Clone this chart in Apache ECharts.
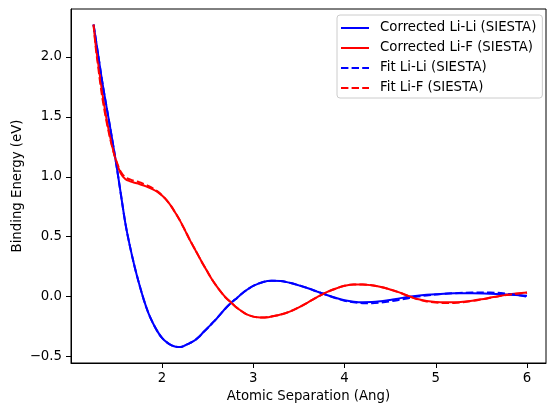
<!DOCTYPE html>
<html>
<head>
<meta charset="utf-8">
<script src="https://cdn.jsdelivr.net/npm/echarts@6/dist/echarts.min.js"></script>
<style>html,body{margin:0;padding:0;background:#fff}#c{width:547px;height:404px}</style>
</head>
<body>
<div id="c"></div>
<script>
// ---- data ----
var seriesNames = ['Corrected Li-Li (SIESTA)', 'Corrected Li-F (SIESTA)', 'Fit Li-Li (SIESTA)', 'Fit Li-F (SIESTA)'];

var xLiLi = [1.25,1.30,1.35,1.40,1.45,1.50,1.55,1.60,1.65,1.70,1.75,1.80,1.85,1.90,1.95,2.00,2.05,2.10,2.15,2.20,2.25,2.30,2.35,2.40,2.45,2.50,2.55,2.60,2.65,2.70,2.75,2.80,2.85,2.90,2.95,3.00,3.10,3.20,3.30,3.40,3.50,3.60,3.70,3.80,3.90,4.00,4.10,4.20,4.30,4.40,4.50,4.60,4.70,4.80,4.90,5.00,5.20,5.40,5.60,5.80,6.00];
var yLiLi = [2.27,2.02,1.77,1.55,1.33,1.10,0.85,0.605,0.415,0.25,0.105,-0.025,-0.135,-0.22,-0.29,-0.345,-0.38,-0.405,-0.418,-0.421,-0.408,-0.39,-0.37,-0.34,-0.30,-0.262,-0.222,-0.183,-0.138,-0.095,-0.057,-0.025,0.008,0.04,0.067,0.09,0.12,0.132,0.13,0.115,0.094,0.07,0.042,0.015,-0.01,-0.03,-0.042,-0.047,-0.046,-0.039,-0.028,-0.015,-0.002,0.008,0.015,0.02,0.027,0.028,0.024,0.016,0.008];
var yFitLiLi = [2.27,2.02,1.77,1.55,1.33,1.10,0.85,0.605,0.415,0.25,0.105,-0.025,-0.135,-0.22,-0.29,-0.345,-0.38,-0.405,-0.418,-0.421,-0.408,-0.39,-0.37,-0.34,-0.30,-0.262,-0.222,-0.183,-0.138,-0.095,-0.057,-0.025,0.008,0.04,0.067,0.09,0.12,0.132,0.13,0.115,0.094,0.07,0.042,0.015,-0.012,-0.034,-0.048,-0.055,-0.056,-0.05,-0.04,-0.027,-0.013,0.0,0.01,0.017,0.028,0.034,0.034,0.022,0.0];

var xLiF = [1.25,1.275,1.30,1.325,1.35,1.375,1.40,1.45,1.50,1.55,1.60,1.65,1.70,1.75,1.80,1.85,1.90,1.95,2.00,2.05,2.10,2.15,2.20,2.25,2.30,2.35,2.40,2.45,2.50,2.55,2.60,2.65,2.70,2.75,2.80,2.85,2.90,2.95,3.00,3.05,3.10,3.15,3.20,3.30,3.40,3.50,3.60,3.70,3.80,3.90,4.00,4.10,4.20,4.30,4.40,4.50,4.60,4.70,4.80,4.90,5.00,5.10,5.20,5.30,5.40,5.50,5.60,5.70,5.80,5.90,6.00];
var yLiF = [2.27,2.09,1.95,1.81,1.68,1.56,1.45,1.27,1.125,1.025,0.98,0.962,0.95,0.94,0.927,0.912,0.895,0.873,0.843,0.805,0.755,0.695,0.63,0.556,0.48,0.41,0.34,0.27,0.205,0.14,0.085,0.035,-0.01,-0.045,-0.08,-0.11,-0.135,-0.155,-0.167,-0.173,-0.175,-0.173,-0.166,-0.15,-0.125,-0.09,-0.048,-0.005,0.035,0.066,0.09,0.102,0.102,0.094,0.08,0.06,0.035,0.005,-0.02,-0.036,-0.045,-0.048,-0.047,-0.042,-0.034,-0.022,-0.008,0.006,0.018,0.027,0.035];
var yFitLiF = [2.27,2.07,1.92,1.77,1.64,1.53,1.43,1.26,1.13,1.04,0.995,0.978,0.965,0.955,0.94,0.923,0.903,0.878,0.846,0.805,0.755,0.695,0.63,0.556,0.48,0.41,0.34,0.27,0.205,0.14,0.085,0.035,-0.01,-0.045,-0.08,-0.11,-0.135,-0.155,-0.167,-0.173,-0.175,-0.173,-0.166,-0.15,-0.125,-0.09,-0.048,-0.005,0.035,0.066,0.09,0.102,0.102,0.094,0.08,0.06,0.035,0.005,-0.022,-0.04,-0.05,-0.054,-0.053,-0.047,-0.037,-0.024,-0.01,0.004,0.016,0.025,0.033];

var xTicks = [2, 3, 4, 5, 6];
var yTicks = [-0.5, 0.0, 0.5, 1.0, 1.5, 2.0];

function pairs(xs, ys) { return xs.map(function (x, i) { return [x, ys[i]]; }); }

var FONT = 'DejaVu Sans';
var chart = echarts.init(document.getElementById('c'), null, { renderer: 'canvas' });
var dashIcon = 'path://M0,0h7.4v2h-7.4z M10.6,0h7.4v2h-7.4z M21.2,0h6.8v2h-6.8z';
var solidIcon = 'path://M0,0h28v2h-28z';

function mkSeries(name, data, color, dashed) {
  return {
    name: name, type: 'line', data: data, showSymbol: false, symbol: 'none',
    smooth: 0.35, animation: false, clip: true,
    lineStyle: { color: color, width: 2, type: dashed ? [7.4, 3.2] : 'solid', cap: 'butt' },
    itemStyle: { color: color }
  };
}

chart.setOption({
  animation: false,
  backgroundColor: '#ffffff',
  textStyle: { fontFamily: FONT },
  grid: { left: 71, top: 9, width: 475, height: 354, show: true, borderColor: '#000', borderWidth: 1, backgroundColor: 'transparent', containLabel: false, outerBoundsMode: 'none' },
  legend: {
    orient: 'vertical', left: 337, top: 15,
    padding: [6, 6, 3, 4], itemGap: 6, itemWidth: 28, itemHeight: 2,
    backgroundColor: 'rgba(255,255,255,0.8)', borderColor: '#cccccc', borderWidth: 1, borderRadius: 3,
    textStyle: { fontFamily: FONT, fontSize: 13.3, color: '#000', lineHeight: 14, padding: [0, 0, 0, 6] },
    selectedMode: false,
    data: [
      { name: seriesNames[0], icon: solidIcon, itemStyle: { color: '#0000ff' } },
      { name: seriesNames[1], icon: solidIcon, itemStyle: { color: '#ff0000' } },
      { name: seriesNames[2], icon: dashIcon, itemStyle: { color: '#0000ff' } },
      { name: seriesNames[3], icon: dashIcon, itemStyle: { color: '#ff0000' } }
    ]
  },
  xAxis: {
    type: 'value', min: 1.0027, max: 6.208,
    name: 'Atomic Separation (Ang)', nameLocation: 'middle', nameGap: 27, nameMoveOverlap: false,
    nameTextStyle: { fontFamily: FONT, fontSize: 13.3, color: '#000' },
    axisLine: { show: true, onZero: false, lineStyle: { color: '#000', width: 1 } },
    axisTick: { show: true, length: 5, lineStyle: { color: '#000', width: 1 }, customValues: xTicks },
    axisLabel: { show: true, margin: 9, fontFamily: FONT, fontSize: 13.3, color: '#000', customValues: xTicks, formatter: function (v) { return String(v); } },
    splitLine: { show: false }
  },
  yAxis: {
    type: 'value', min: -0.554, max: 2.40,
    name: 'Binding Energy (eV)', nameLocation: 'middle', nameGap: 47, nameRotate: 90, nameMoveOverlap: false,
    nameTextStyle: { fontFamily: FONT, fontSize: 13.3, color: '#000' },
    axisLine: { show: true, onZero: false, lineStyle: { color: '#000', width: 1 } },
    axisTick: { show: true, length: 5, lineStyle: { color: '#000', width: 1 }, customValues: yTicks },
    axisLabel: { show: true, margin: 9, fontFamily: FONT, fontSize: 13.3, color: '#000', customValues: yTicks, formatter: function (v) { return v.toFixed(1).replace('-', '\u2212'); } },
    splitLine: { show: false }
  },
  series: [
    mkSeries(seriesNames[0], pairs(xLiLi, yLiLi), '#0000ff', false),
    mkSeries(seriesNames[1], pairs(xLiF, yLiF), '#ff0000', false),
    mkSeries(seriesNames[2], pairs(xLiLi, yFitLiLi), '#0000ff', true),
    mkSeries(seriesNames[3], pairs(xLiF, yFitLiF), '#ff0000', true)
  ]
});
</script>
</body>
</html>
